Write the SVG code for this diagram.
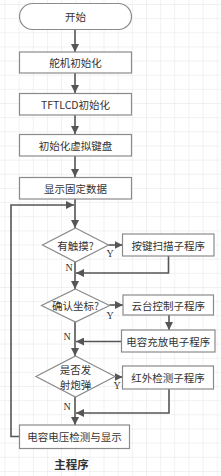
<svg xmlns="http://www.w3.org/2000/svg" width="221" height="476" viewBox="0 0 221 476">
<defs>
<pattern id="grid" x="4.5" y="4" width="14.15" height="14.15" patternUnits="userSpaceOnUse">
<path d="M0 0H14.15M0 0V14.15" fill="none" stroke="#e4e4e4" stroke-width="1"/>
</pattern>
<marker id="ah" viewBox="0 0 8 8" refX="8" refY="4" markerWidth="8" markerHeight="8" markerUnits="userSpaceOnUse" orient="auto">
<path d="M0 0L8 4L0 8Z" fill="#555"/>
</marker>
</defs>
<style>
.node{fill:#fff;stroke:#8a8a8a;stroke-width:1.2}
.t{font-family:"Noto Sans CJK SC","Noto Sans",sans-serif;font-size:10.5px;fill:#333;text-anchor:middle;dominant-baseline:central}
.c{fill:none;stroke:#555;stroke-width:1.6}
.lbl{font-family:"Liberation Serif","Noto Sans CJK SC",serif;font-size:10px;fill:#333;text-anchor:middle;dominant-baseline:central}
</style>
<rect width="221" height="476" fill="#fff"/>
<rect width="221" height="476" fill="url(#grid)"/>
<g id="connectors">
<path class="c" d="M75 29.5V52" marker-end="url(#ah)"/>
<path class="c" d="M75 73V93" marker-end="url(#ah)"/>
<path class="c" d="M75 115V134" marker-end="url(#ah)"/>
<path class="c" d="M75 156V177" marker-end="url(#ah)"/>
<path class="c" d="M75 199V228" marker-end="url(#ah)"/>
<path class="c" d="M75 262V289" marker-end="url(#ah)"/>
<path class="c" d="M75 322V356" marker-end="url(#ah)"/>
<path class="c" d="M75 397V425" marker-end="url(#ah)"/>
<path class="c" d="M108.5 245H122.5" marker-end="url(#ah)"/>
<path class="c" d="M168.5 256V273H76" marker-end="url(#ah)"/>
<path class="c" d="M109.5 305H123" marker-end="url(#ah)"/>
<path class="c" d="M169 315V330" marker-end="url(#ah)"/>
<path class="c" d="M121.5 341.5H76" marker-end="url(#ah)"/>
<path class="c" d="M115 377H122.5" marker-end="url(#ah)"/>
<path class="c" d="M169 389V413H76" marker-end="url(#ah)"/>
<path class="c" d="M19.5 436.5H11V205H74" marker-end="url(#ah)"/>
<text class="lbl" x="110" y="253.5">Y</text>
<text class="lbl" x="69" y="267.5">N</text>
<text class="lbl" x="110" y="315">Y</text>
<text class="lbl" x="67" y="336.5">N</text>
<text class="lbl" x="117" y="385">Y</text>
<text class="lbl" x="67" y="406.5">N</text>
</g>
<g id="start">
<rect class="node" x="19.5" y="3.5" width="112" height="26" rx="13"/>
<text class="t" x="75.5" y="16.5">开始</text>
</g>
<g id="servo-init">
<rect class="node" x="19.5" y="52" width="112" height="21"/>
<text class="t" x="75.5" y="62.5">舵机初始化</text>
</g>
<g id="tft-init">
<rect class="node" x="19.5" y="93.5" width="112" height="21.5"/>
<text class="t" x="75.5" y="104.3">TFTLCD初始化</text>
</g>
<g id="keyboard-init">
<rect class="node" x="19.5" y="134.5" width="112" height="21.5"/>
<text class="t" x="75.5" y="145.3">初始化虚拟键盘</text>
</g>
<g id="show-fixed">
<rect class="node" x="19.5" y="177.5" width="112" height="21.5"/>
<text class="t" x="75.5" y="188.3">显示固定数据</text>
</g>
<g id="touch">
<polygon class="node" points="75.5,228 108.5,245 75.5,262 42.5,245"/>
<text class="t" x="75.5" y="245">有触摸?</text>
</g>
<g id="key-scan">
<rect class="node" x="122.5" y="234" width="91.5" height="22"/>
<text class="t" x="168.3" y="245">按键扫描子程序</text>
</g>
<g id="confirm">
<polygon class="node" points="75.5,289 109.5,305.5 75.5,322 41.5,305.5"/>
<text class="t" x="75.5" y="305.5">确认坐标?</text>
</g>
<g id="ptz">
<rect class="node" x="123" y="295" width="90.5" height="20"/>
<text class="t" x="168.3" y="305">云台控制子程序</text>
</g>
<g id="charge">
<rect class="node" x="121.5" y="330" width="93.5" height="22"/>
<text class="t" x="168.3" y="341">电容充放电子程序</text>
</g>
<g id="fire">
<polygon class="node" points="75.5,356 115,376.5 75.5,397 36,376.5"/>
<text class="t" x="75.5" y="369">是否发</text>
<text class="t" x="75.5" y="384.5">射炮弹</text>
</g>
<g id="ir">
<rect class="node" x="122.5" y="366" width="91" height="23"/>
<text class="t" x="168" y="377.5">红外检测子程序</text>
</g>
<g id="voltage">
<rect class="node" x="19.5" y="425" width="110" height="23.5"/>
<text class="t" x="74.5" y="436.7">电容电压检测与显示</text>
</g>
<text x="71.5" y="463.5" style="font-family:'Noto Sans CJK SC',serif;font-size:11.5px;font-weight:bold;fill:#333;text-anchor:middle;dominant-baseline:central">主程序</text>
</svg>
